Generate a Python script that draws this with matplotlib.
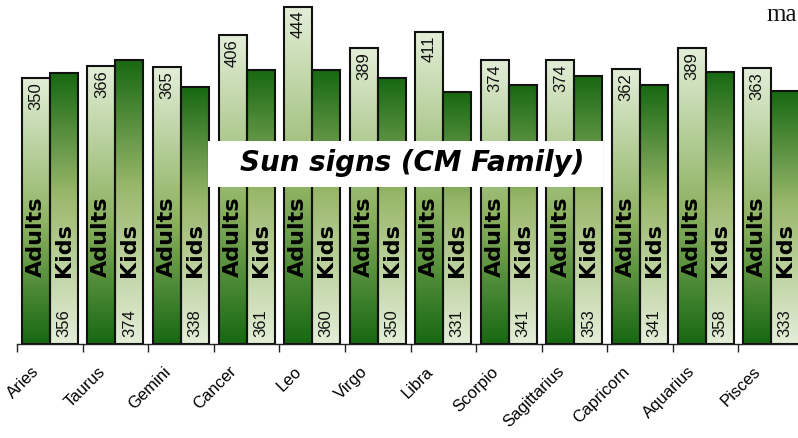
import numpy as np
import matplotlib
matplotlib.use("Agg")
import matplotlib.pyplot as plt
import matplotlib.transforms as mtransforms
from matplotlib.colors import LinearSegmentedColormap
from matplotlib.patches import Rectangle

signs = ["Aries", "Taurus", "Gemini", "Cancer", "Leo", "Virgo", "Libra",
         "Scorpio", "Sagittarius", "Capricorn", "Aquarius", "Pisces"]
adults = [350, 366, 365, 406, 444, 389, 411, 374, 374, 362, 389, 363]
kids = [356, 374, 338, 361, 360, 350, 331, 341, 353, 341, 358, 333]
series_names = ["Adults", "Kids"]
title = "Sun signs (CM Family)"

W, H = 798, 438
fig = plt.figure(figsize=(W / 100, H / 100), dpi=100)
ax_left, ax_right, ax_bottom_px = 17, 804, 344
ax = fig.add_axes([ax_left / W, (H - ax_bottom_px) / H,
                   (ax_right - ax_left) / W, ax_bottom_px / H])
ax.set_facecolor("none")

# gradient colormaps (row 0 = bottom of bar)
cmap_adult = LinearSegmentedColormap.from_list(
    "ad", [(0, "#176812"), (0.45, "#8db261"), (1, "#e3eed8")])
cmap_kid = LinearSegmentedColormap.from_list(
    "kd", [(0, "#e3eed8"), (0.55, "#9ab86b"), (1, "#176812")])

x = np.arange(len(signs))
bw = 0.427
grad = np.linspace(0, 1, 256).reshape(-1, 1)

def draw_series(xs, vals, cmap):
    bars = ax.bar(xs, vals, width=bw, facecolor="none", edgecolor="#111111",
                  linewidth=1.5, zorder=3)
    for b in bars:
        x0, w, h = b.get_x(), b.get_width(), b.get_height()
        im = ax.imshow(grad, extent=(x0, x0 + w, 0, h), origin="lower",
                       cmap=cmap, aspect="auto", zorder=2,
                       interpolation="bilinear")
        im.set_clip_path(b)
    return bars

ba = draw_series(x - bw / 2, adults, cmap_adult)
bk = draw_series(x + bw / 2, kids, cmap_kid)

ax.set_xlim(-0.5, len(signs) - 0.5)
ax.set_ylim(0, 344 / 0.76)

# value labels
for xi, v in zip(x - bw / 2, adults):
    ax.annotate(f"{v}", (xi, v), xytext=(0, -3), textcoords="offset points",
                rotation=90, ha="center", va="top", fontsize=12,
                family="Liberation Sans", color="#111111", zorder=5)
for xi, v in zip(x + bw / 2, kids):
    ax.annotate(f"{v}", (xi, 0), xytext=(0, 5), textcoords="offset points",
                rotation=90, ha="center", va="bottom", fontsize=12,
                family="Liberation Sans", color="#111111", zorder=5)

# series name labels inside bars
for xi in x:
    ax.annotate(series_names[0], (xi - bw / 2, 0), xytext=(0, 48),
                textcoords="offset points", rotation=90, ha="center",
                va="bottom", fontsize=16, fontweight="bold",
                family="DejaVu Sans", color="#000000", zorder=5)
    ax.annotate(series_names[1], (xi + bw / 2, 0), xytext=(0, 48),
                textcoords="offset points", rotation=90, ha="center",
                va="bottom", fontsize=16, fontweight="bold",
                family="DejaVu Sans", color="#000000", zorder=5)

# axes styling
for s in ["left", "top", "right"]:
    ax.spines[s].set_visible(False)
ax.spines["bottom"].set_color("#222222")
ax.spines["bottom"].set_linewidth(1.0)
ax.spines["bottom"].set_zorder(4)
ax.set_yticks([])
ax.set_xticks(np.arange(len(signs) + 1) - 0.5)
ax.set_xticklabels([])
ax.tick_params(axis="x", which="major", length=6, width=1.0, color="#222222")
ax.set_xticks(x, minor=True)
ax.set_xticklabels(signs, minor=True, rotation=45, ha="right",
                   rotation_mode="anchor", fontsize=12,
                   family="Liberation Sans")
ax.tick_params(axis="x", which="minor", length=0, pad=10)
shift = mtransforms.ScaledTranslation(-18 / 100, -6 / 100, fig.dpi_scale_trans)
for lbl in ax.get_xticklabels(minor=True):
    lbl.set_transform(lbl.get_transform() + shift)

# title box
fig.add_artist(Rectangle((208 / W, (H - 187) / H), (603 - 208) / W, 46 / H,
                         transform=fig.transFigure, facecolor="white",
                         edgecolor="none", zorder=10))
fig.text(412 / W, (H - 163) / H, title, ha="center", va="center",
         fontsize=20, fontweight="bold", fontstyle="italic",
         family="DejaVu Sans", color="black", zorder=11)

fig.text(766 / W, (H - 21) / H, "ma", ha="left", va="baseline",
         fontsize=18, family="Liberation Serif", color="#111111")

fig.savefig("out.png", dpi=100)
